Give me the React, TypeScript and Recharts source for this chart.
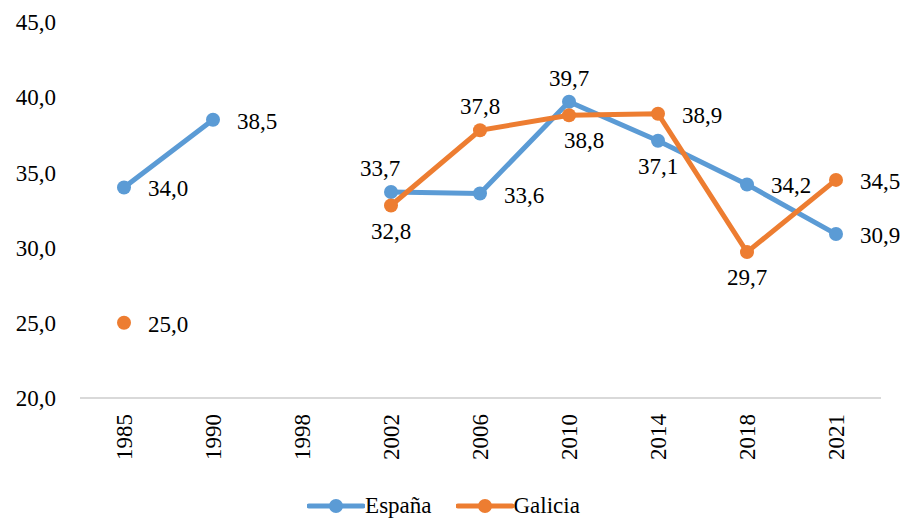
import React from 'react'
import { LineChart, Line, XAxis, YAxis, Legend, LabelList } from 'recharts'

const years = ['1985', '1990', '1998', '2002', '2006', '2010', '2014', '2018', '2021']
const espana = [34.0, 38.5, null, 33.7, 33.6, 39.7, 37.1, 34.2, 30.9]
const galicia = [25.0, null, null, 32.8, 37.8, 38.8, 38.9, 29.7, 34.5]
const yTicks = [20, 25, 30, 35, 40, 45]

// where each value label sits relative to its point
const espanaLabelSide = ['right', 'right', 'none', 'top', 'right', 'top', 'bottom', 'right', 'right']
const galiciaLabelSide = ['right', 'none', 'none', 'bottom', 'top', 'bottom', 'right', 'bottom', 'right']

const BLUE = '#5B9BD5'
const ORANGE = '#ED7D31'
const FONT = '"Liberation Serif", serif'

const data = years.map((year, i) => ({ year, espana: espana[i], galicia: galicia[i] }))

const fmt = (v: number) => v.toFixed(1).replace('.', ',')

function makeLabel(sides: string[]) {
  return (props: any) => {
    const { x, y, value, index } = props
    if (value == null) return null
    const side = sides[index]
    let tx = x
    let ty = y
    let anchor: 'start' | 'middle' | 'end' = 'middle'
    if (side === 'right') {
      tx = x + 24
      ty = y + 1
      anchor = 'start'
    } else if (side === 'top') {
      ty = y - 24
    } else if (side === 'bottom') {
      ty = y + 25
    }
    if (sides === espanaLabelSide && index === 3) tx = x - 11
    if (sides === galiciaLabelSide && index === 5) tx = x + 15
    return (
      <text x={tx} y={ty} dy="0.35em" textAnchor={anchor} fontFamily={FONT} fontSize={23} fill="#000">
        {fmt(value)}
      </text>
    )
  }
}

const XTick = (props: any) => {
  const { x, y, payload } = props
  return (
    <text
      transform={`translate(${x},${y + 8}) rotate(-90)`}
      dy="0.35em"
      textAnchor="end"
      fontFamily={FONT}
      fontSize={23}
      fill="#000"
    >
      {payload.value}
    </text>
  )
}

const LegendContent = () => {
  const items = [
    { name: 'España', color: BLUE },
    { name: 'Galicia', color: ORANGE },
  ]
  return (
    <div style={{ display: 'flex', justifyContent: 'center', gap: 24, height: 26, alignItems: 'center', paddingLeft: 6 }}>
      {items.map((it) => (
        <div key={it.name} style={{ display: 'flex', alignItems: 'center' }}>
          <svg width={58} height={16}>
            <line x1={2} y1={8} x2={56} y2={8} stroke={it.color} strokeWidth={5} strokeLinecap="round" />
            <circle cx={29} cy={8} r={7} fill={it.color} />
          </svg>
          <span style={{ fontFamily: FONT, fontSize: 23, color: '#000' }}>{it.name}</span>
        </div>
      ))}
    </div>
  )
}

export default function App() {
  return (
    <div style={{ width: 904, height: 519, background: '#fff' }}>
      <style>{'body{margin:0}'}</style>
      <LineChart width={904} height={519} data={data} margin={{ top: 22, right: 23, bottom: 0, left: 0 }}>
        <XAxis
          dataKey="year"
          height={95}
          tick={<XTick />}
          tickLine={false}
          axisLine={{ stroke: '#D9D9D9', strokeWidth: 2 }}
          interval={0}
          padding={{ left: 44, right: 45 }}
        />
        <YAxis
          domain={[20, 45]}
          ticks={yTicks}
          width={80}
          tickSize={0}
          tickMargin={24}
          axisLine={false}
          tickLine={false}
          tickFormatter={fmt}
          tick={{ fontFamily: FONT, fontSize: 23, fill: '#000' }}
        />
        <Legend verticalAlign="bottom" height={26} content={<LegendContent />} />
        <Line
          dataKey="espana"
          name="España"
          stroke={BLUE}
          strokeWidth={5}
          dot={{ r: 7, fill: BLUE, stroke: BLUE, strokeWidth: 0 }}
          activeDot={false}
          isAnimationActive={false}
        >
          <LabelList dataKey="espana" content={makeLabel(espanaLabelSide)} />
        </Line>
        <Line
          dataKey="galicia"
          name="Galicia"
          stroke={ORANGE}
          strokeWidth={5}
          dot={{ r: 7, fill: ORANGE, stroke: ORANGE, strokeWidth: 0 }}
          activeDot={false}
          isAnimationActive={false}
        >
          <LabelList dataKey="galicia" content={makeLabel(galiciaLabelSide)} />
        </Line>
      </LineChart>
    </div>
  )
}
